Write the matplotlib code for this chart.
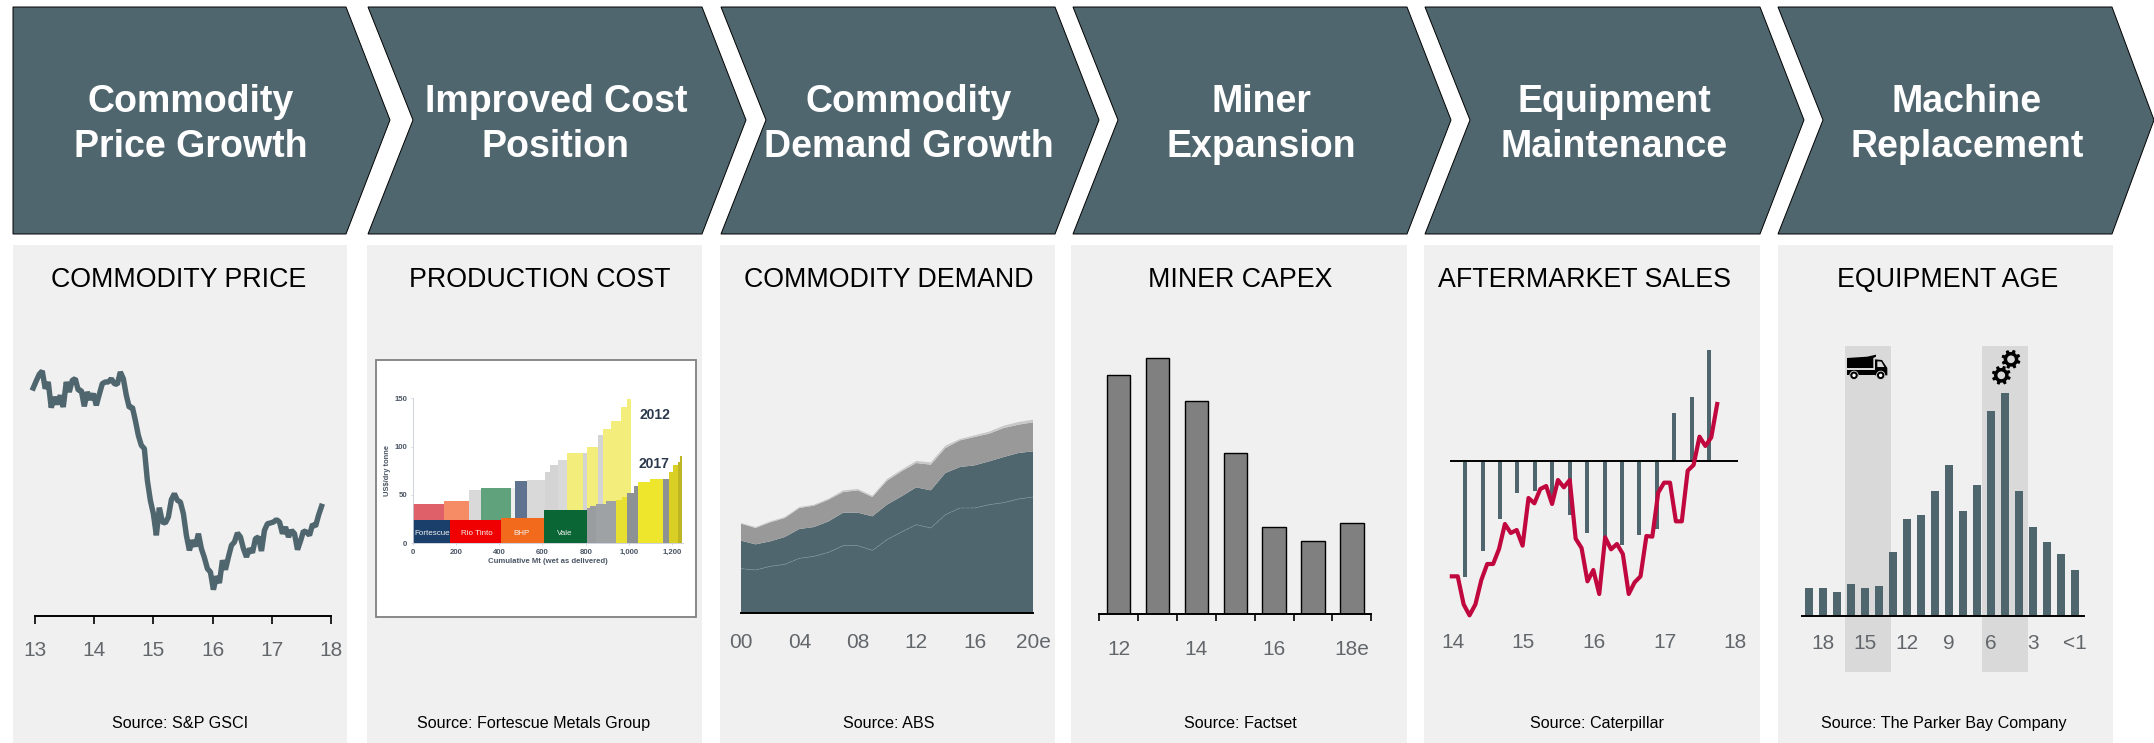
"""Six-step mining cycle infographic: chevrons on top, one small chart under each."""

import numpy as np
import matplotlib
matplotlib.use("Agg")
import matplotlib.pyplot as plt
from matplotlib.patches import Circle, Polygon, Rectangle

plt.rcParams["font.family"] = ["Liberation Sans", "DejaVu Sans"]

W, H = 2154, 743
SLATE = "#50666F"
PANEL = "#F0F0F0"
BAND = "#D9D9D9"
TICK_GREY = "#63676B"

# header / panel text
header_lines = [
    ("Commodity", "Price Growth"),
    ("Improved Cost", "Position"),
    ("Commodity", "Demand Growth"),
    ("Miner", "Expansion"),
    ("Equipment", "Maintenance"),
    ("Machine", "Replacement"),
]
panel_titles = ["COMMODITY PRICE", "PRODUCTION COST", "COMMODITY DEMAND",
                "MINER CAPEX", "AFTERMARKET SALES", "EQUIPMENT AGE"]
sources = ["Source: S&P GSCI", "Source: Fortescue Metals Group", "Source: ABS",
           "Source: Factset", "Source: Caterpillar", "Source: The Parker Bay Company"]

# commodity price index, roughly every 2.5 weeks
price_years = ["13", "14", "15", "16", "17", "18"]
price_index = [684, 705, 725, 735, 682, 702, 625, 657, 635, 662, 627, 702, 672, 707,
               712, 677, 677, 629, 672, 649, 667, 632, 665, 697, 702, 702, 712, 697,
               695, 732, 712, 662, 625, 627, 587, 542, 512, 502, 407, 347, 307, 242,
               325, 282, 279, 297, 349, 367, 347, 342, 307, 242, 197, 227, 209, 247,
               202, 175, 142, 132, 79, 119, 99, 167, 139, 177, 212, 222, 249, 237,
               202, 177, 202, 190, 232, 237, 195, 257, 277, 279, 282, 289, 282, 247,
               267, 237, 257, 247, 199, 225, 255, 252, 242, 275, 269, 302, 329]

# cost curve, 2012 and 2017 (width in Mt, cost in US$/t)
curve_2012_width = [145, 115, 56, 139, 18, 57, 82, 23, 38, 39, 74, 21, 51, 23, 34, 46, 28, 20]
curve_2012_cost = [41, 44, 55, 57, 57, 64, 65, 74, 81, 86, 93, 93, 100, 112, 118, 127, 141, 149]
curve_2012_color = ["#E0606A", "#F58C66", "#D9D9D9", "#5FA27C", "#EFEFEF", "#5F7290",
                    "#D9D9D9", "#D4D4D4", "#D4D4D4", "#D9D9D9", "#F3EE7C", "#D4D4D4",
                    "#F3EE7C", "#D4D4D4", "#F3EE7C", "#F3EE7C", "#F3EE7C", "#F3EE7C"]
curve_2017_width = [173, 234, 200, 197, 15, 27, 46, 46, 28, 23, 36, 15, 57, 62, 26, 20, 20, 11, 11]
curve_2017_cost = [24, 24, 26, 34, 36, 38.6, 41, 44, 45, 48, 52, 59, 63.5, 66, 67, 74, 81, 84, 90]
curve_2017_color = ["#1B3F6B", "#F00000", "#F26B1D", "#0B6636", "#9A9DA0", "#9A9DA0",
                    "#9FA2A5", "#9FA2A5", "#E8E030", "#E8E030", "#8E9194", "#8E9194",
                    "#EDE62C", "#EDE62C", "#8E9194", "#D9CF25", "#D9CF25", "#BDB522", "#BDB522"]
producer_names = ["Fortescue", "Rio Tinto", "BHP", "Vale"]
producer_mid = [88, 295, 505, 705]
cost_xticks = [0, 200, 400, 600, 800, 1000, 1200]
cost_xlabels = ["0", "200", "400", "600", "800", "1,000", "1,200"]
cost_yticks = [0, 50, 100, 150]

# commodity demand, stacked layers by year
demand_years = list(range(2000, 2021))
demand_a = [133, 129, 140, 146, 164, 170, 182, 202, 202, 188, 220, 243, 265, 255, 295, 315, 315, 325, 331, 342, 348]
demand_b = [84, 77, 75, 82, 88, 88, 93, 99, 99, 102, 105, 107, 112, 113, 125, 123, 128, 130, 137, 138, 137]
demand_c = [51, 49, 57, 57, 63, 64, 65, 62, 67, 58, 72, 75, 73, 77, 75, 80, 85, 83, 87, 85, 87]
demand_d = [2, 3, 3, 3, 3, 3, 3, 5, 4, 4, 5, 5, 6, 7, 7, 4, 5, 6, 7, 8, 8]
demand_ticks = [2000, 2004, 2008, 2012, 2016, 2020]
demand_labels = ["00", "04", "08", "12", "16", "20e"]

# miner capex
capex = [716, 769, 638, 482, 262, 220, 274]
capex_labels = ["12", "14", "16", "18e"]

# aftermarket sales growth, quarterly bars and monthly line
sales_bars = [-349, -271, -175, -97, -91, -108, -163, -217, -235, -253, -223, -205, 143, 191, 332]
sales_line = [-347, -347, -431, -464, -431, -358, -310, -310, -265, -190, -217, -208,
              -255, -112, -128, -85, -76, -130, -58, -80, -58, -234, -262, -362,
              -328, -400, -230, -266, -250, -280, -400, -365, -347, -226, -228, -96,
              -66, -66, -182, -182, -30, -13, 72, 44, 70, 170]
sales_ticks = [14, 15, 16, 17, 18]

# equipment age, oldest first
age_units = [84, 84, 72, 96, 84, 90, 192, 291, 303, 375, 453, 315, 393, 615, 669, 375, 267, 222, 186, 138]
age_tick_pos = [1, 4, 7, 10, 13, 16, 19]
age_tick_labels = ["18", "15", "12", "9", "6", "3", "<1"]

chevron_left = [13, 368, 721, 1073, 1425, 1778]
chevron_right = [346, 702, 1055, 1407, 1760, 2112]
header_x = [191, 556, 909, 1261, 1614, 1967]
panel_left = [13, 367, 720, 1071, 1424, 1778]
panel_right = [347, 702, 1055, 1407, 1760, 2113]
title_x = [179, 540, 889, 1240, 1585, 1948]
source_x = [180, 534, 889, 1240, 1597, 1944]


def px_axes(fig, x0, x1, ytop, ybot, **kw):
    """Axes placed by pixel box, y measured from the top of the image."""
    ax = fig.add_axes([x0 / W, 1 - ybot / H, (x1 - x0) / W, (ybot - ytop) / H], **kw)
    ax.patch.set_alpha(0)
    for side in ("top", "left", "right"):
        ax.spines[side].set_visible(False)
    ax.yaxis.set_visible(False)
    ax.spines["bottom"].set_linewidth(1.4)
    return ax


def gear(ax, cx, cy, r):
    angles = np.linspace(0, 2 * np.pi, 64, endpoint=False)
    radii = np.where((np.arange(64) % 8) < 4, r, r * 0.76)
    pts = np.column_stack([cx + radii * np.cos(angles + 0.2), cy + radii * np.sin(angles + 0.2)])
    ax.add_patch(Polygon(pts, fc="black", ec="none"))
    ax.add_patch(Circle((cx, cy), r * 0.4, fc=BAND, ec="none"))


fig = plt.figure(figsize=(W / 100, H / 100), dpi=100, facecolor="white")

bg = fig.add_axes([0, 0, 1, 1], zorder=0)
bg.set_xlim(0, W)
bg.set_ylim(H, 0)
bg.axis("off")

for i in range(6):
    l, r = chevron_left[i], chevron_right[i]
    notch = 0 if i == 0 else 45
    tip = 42 if i == 5 else 44
    bg.add_patch(Polygon([(l, 7), (r, 7), (r + tip, 120), (r, 234), (l, 234), (l + notch, 120)],
                         fc=SLATE, ec="black", lw=0.7))
    bg.text(header_x[i], 112, header_lines[i][0], color="white", fontsize=27,
            fontweight="bold", ha="center", va="baseline")
    bg.text(header_x[i], 157, header_lines[i][1], color="white", fontsize=27,
            fontweight="bold", ha="center", va="baseline")
    bg.add_patch(Rectangle((panel_left[i], 245), panel_right[i] - panel_left[i], H - 245,
                           fc=PANEL, ec="none"))
    bg.text(title_x[i], 287, panel_titles[i], color="black", fontsize=19.3, ha="center", va="baseline")
    bg.text(source_x[i], 728, sources[i], color="black", fontsize=11.6, ha="center", va="baseline")

# 1. commodity price
ax = px_axes(fig, 35, 331, 360, 616)
x = np.linspace(12.97, 17.84, len(price_index))
ax.plot(x, price_index, color=SLATE, lw=3.9, clip_on=False, solid_joinstyle="bevel")
ax.set_xlim(13, 18)
ax.set_ylim(0, 768)
ax.set_xticks(range(13, 19))
ax.set_xticklabels(price_years)
ax.tick_params(axis="x", length=6, width=1.2, pad=12, labelsize=15, labelcolor=TICK_GREY)

# 2. production cost picture
bg.add_patch(Rectangle((376, 360), 320, 257, fc="white", ec="#808080", lw=1.3))
ax = px_axes(fig, 412.7, 683, 398.3, 543.3)
ax.bar(np.cumsum([0] + curve_2012_width[:-1]), curve_2012_cost, width=curve_2012_width,
       align="edge", color=curve_2012_color, lw=0)
ax.bar(np.cumsum([0] + curve_2017_width[:-1]), curve_2017_cost, width=curve_2017_width,
       align="edge", color=curve_2017_color, lw=0)
ax.set_xlim(0, 1250)
ax.set_ylim(0, 150)
ax.yaxis.set_visible(True)
ax.spines["left"].set_visible(True)
ax.spines["left"].set_color("#C8CCD8")
ax.spines["left"].set_linewidth(0.6)
ax.spines["bottom"].set_color("#C8CCD8")
ax.spines["bottom"].set_linewidth(0.6)
ax.set_xticks(cost_xticks)
ax.set_xticklabels(cost_xlabels, fontweight="bold")
ax.set_yticks(cost_yticks)
ax.set_yticklabels(cost_yticks, fontweight="bold")
ax.tick_params(length=1.5, width=0.5, color="#C8CCD8", pad=2.5, labelsize=5.6, labelcolor="#4A5564")
ax.set_xlabel("Cumulative Mt (wet as delivered)", fontsize=5.6, fontweight="bold", color="#4A5564", labelpad=1.5)
ax.set_ylabel("US$/dry tonne", fontsize=5.4, fontweight="bold", color="#4A5564", labelpad=2)
for name, mid in zip(producer_names, producer_mid):
    ax.text(mid, 10.5, name, color="#F2F2F2", fontsize=5.8, ha="center", va="center")
ax.text(1120, 133, "2012", color="#2B394C", fontsize=10, fontweight="bold", ha="center", va="center")
ax.text(1115, 82, "2017", color="#2B394C", fontsize=10, fontweight="bold", ha="center", va="center")

# 3. commodity demand
ax = px_axes(fig, 741, 1033, 380, 613)
ax.stackplot(demand_years, demand_a, demand_b, demand_c, demand_d,
             colors=[SLATE, SLATE, "#999999", "#C8C8C8"], lw=0)
ax.plot(demand_years, demand_a, color="#7B8F98", lw=0.5, ls=(0, (6, 1)))
ax.set_xlim(2000, 2020)
ax.set_ylim(0, 699)
ax.set_xticks(demand_ticks)
ax.set_xticklabels(demand_labels)
ax.tick_params(axis="x", length=0, pad=14.5, labelsize=15, labelcolor=TICK_GREY)

# 4. miner capex
ax = px_axes(fig, 1098.7, 1371.3, 350, 614)
ax.bar(range(len(capex)), capex, width=0.6, color="#808080", ec="black", lw=1)
ax.set_xlim(-0.515, 6.5)
ax.set_ylim(0, 792)
ax.set_xticks(np.arange(-0.5, 7, 1))
ax.set_xticklabels([])
ax.set_xticks([0, 2, 4, 6], minor=True)
ax.set_xticklabels(capex_labels, minor=True)
ax.tick_params(axis="x", which="major", length=5, width=1.2)
ax.tick_params(axis="x", which="minor", length=0, pad=19, labelsize=15, labelcolor=TICK_GREY)

# 5. aftermarket sales
ax = px_axes(fig, 1450, 1738, 345, 625)
ax.spines["bottom"].set_visible(False)
ax.bar(np.linspace(14.175, 17.63, len(sales_bars)), sales_bars, width=0.057, color=SLATE, lw=0)
ax.axhline(0, color="black", lw=1.4, zorder=2)
ax.plot(np.linspace(13.986, 17.745, len(sales_line)), sales_line, color="#C0083F", lw=3,
        clip_on=False, zorder=3)
ax.set_xlim(13.96, 18.04)
ax.set_ylim(-493, 347)
ax.set_xticks(sales_ticks)
ax.tick_params(axis="x", length=0, pad=6, labelsize=15, labelcolor=TICK_GREY)

# 6. equipment age
ax = px_axes(fig, 1802, 2084, 346, 672)
ax.axvspan(2.57, 5.86, color=BAND, lw=0, zorder=0)
ax.axvspan(12.36, 15.64, color=BAND, lw=0, zorder=0)
ax.bar(range(len(age_units)), age_units, width=0.57, color=SLATE, lw=0, zorder=2)
ax.set_xlim(-0.5, 19.65)
ax.set_ylim(-168, 810)
ax.spines["bottom"].set_position(("data", 0))
ax.spines["bottom"].set_zorder(3)
ax.set_xticks(age_tick_pos)
ax.set_xticklabels(age_tick_labels)
ax.tick_params(axis="x", length=0, pad=13, labelsize=15, labelcolor=TICK_GREY)

# truck and gear icons sit on top of the shaded bands
fg = fig.add_axes([0, 0, 1, 1], zorder=5)
fg.set_xlim(0, W)
fg.set_ylim(H, 0)
fg.axis("off")
fg.patch.set_alpha(0)


def icon_pts(coords):
    return np.array(coords) / 3 + np.array([1790, 340])


fg.add_patch(Polygon(icon_pts([(171, 54), (232, 50), (258, 44), (258, 50), (250, 54), (250, 84), (171, 84)]),
                     fc="black", ec="none"))
fg.add_patch(Polygon(icon_pts([(255, 58), (276, 60), (292, 84), (292, 106), (255, 106)]), fc="black", ec="none"))
fg.add_patch(Polygon(icon_pts([(171, 90), (255, 90), (255, 106), (171, 106)]), fc="black", ec="none"))
fg.add_patch(Polygon(icon_pts([(262, 64), (274, 65), (283, 81), (262, 81)]), fc=BAND, ec="none"))
for wx in (192, 272):
    cx, cy = icon_pts([(wx, 106)])[0]
    fg.add_patch(Circle((cx, cy), 4.2, fc="black", ec=BAND, lw=0.6))
    fg.add_patch(Circle((cx, cy), 1.7, fc="white", ec="none"))
gear(fg, 2011, 359.3, 9.6)
gear(fg, 2001.3, 375.3, 9.6)

fig.savefig("out.png", dpi=100)
